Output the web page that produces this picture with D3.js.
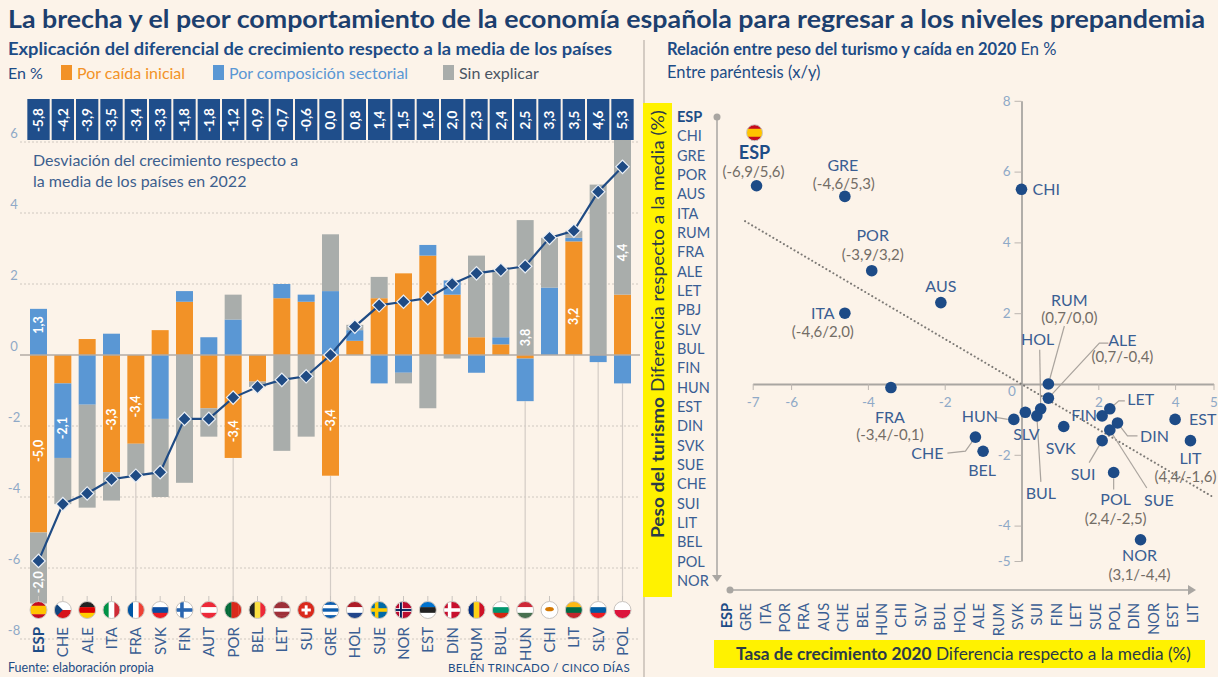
<!DOCTYPE html>
<html lang="es">
<head>
<meta charset="utf-8">
<title>La brecha y el peor comportamiento de la economía española</title>
<script src="https://cdn.jsdelivr.net/npm/d3@7"></script>
<style>
  body { margin: 0; background: #fcf3e9; }
  svg text { font-family: Lato, "Open Sans", sans-serif; }
</style>
</head>
<body>
<svg id="chart"></svg>
<script>
// ---- left panel: desviación del crecimiento 2022 y su explicación ----
const countries = ["ESP","CHE","ALE","ITA","FRA","SVK","FIN","AUT","POR","BEL","LET","SUI","GRE","HOL","SUE","NOR","EST","DIN","RUM","BUL","HUN","CHI","LIT","SLV","POL"];
const deviation2022 = [-5.8,-4.2,-3.9,-3.5,-3.4,-3.3,-1.8,-1.8,-1.2,-0.9,-0.7,-0.6,0.0,0.8,1.4,1.5,1.6,2.0,2.3,2.4,2.5,3.3,3.5,4.6,5.3];
const caidaInicial = [-5.0,-0.8,0.45,-3.3,-2.5,0.7,1.5,-1.5,-2.9,-0.75,1.6,1.5,-3.4,0.4,1.6,2.3,2.8,1.7,0.5,0.3,-0.1,0,3.2,0,1.7];
const composicionSectorial = [1.3,-2.1,-1.4,0.6,0,-1.8,0.3,0.5,1.0,0,0.4,0.2,1.8,0.3,-0.8,-0.5,0.3,0.4,-0.5,0.2,-1.2,1.9,0.1,-0.2,-0.8];
const sinExplicar = [-2.0,-1.3,-2.9,-0.8,-0.9,-2.2,-3.6,-0.8,0.7,-0.15,-2.7,-2.3,1.6,0.15,0.6,-0.3,-1.5,-0.1,2.3,1.9,3.8,1.4,0.2,4.8,4.4];
const yTicksLeft = [6,4,2,0,-2,-4,-6,-8];

// printed labels inside some bars
const barLabelCountry = ["ESP","ESP","ESP","CHE","ITA","FRA","POR","GRE","HUN","LIT","POL"];
const barLabelSeries = ["composicion","caida","sinExplicar","composicion","caida","caida","caida","caida","sinExplicar","caida","sinExplicar"];
const barLabelText = ["1,3","-5,0","-2,0","-2,1","-3,3","-3,4","-3,4","-3,4","3,8","3,2","4,4"];
// where along the segment the label sits (0 = base, 1 = end)
const barLabelAt = [0.65,0.54,0.7,0.6,0.55,0.58,0.74,0.54,0.13,0.34,0.27];
const dropLines = ["FRA","POR","GRE","HUN","LIT","SLV","POL"];

// ---- right panel: peso del turismo vs caída 2020 ----
const scatterCountries = ["ESP","GRE","POR","ITA","AUS","CHI","RUM","ALE","HOL","BUL","HUN","SLV","SVK","FIN","LET","DIN","SUE","SUI","POL","NOR","EST","LIT","CHE","BEL","FRA"];
const growth2020 = [-6.9,-4.6,-3.9,-4.6,-2.1,0.0,0.7,0.7,0.5,0.4,-0.2,0.1,1.1,2.1,2.3,2.5,2.3,2.1,2.4,3.1,4.0,4.4,-1.2,-1.0,-3.4];
const tourism = [5.6,5.3,3.2,2.0,2.3,5.5,0.0,-0.4,-0.7,-0.9,-1.0,-0.8,-1.2,-0.9,-0.7,-1.1,-1.3,-1.6,-2.5,-4.4,-1.0,-1.6,-1.5,-1.9,-0.1];
const withCoords = ["ESP","GRE","POR","ITA","RUM","ALE","FRA","POL","NOR","LIT"];
const trendX = [-7.2, 5.0];
const trendY = [4.6, -3.2];
const xTicksRight = [-7,-6,-4,-2,0,2,4,5];
const yTicksRight = [8,6,4,2,-2,-4,-5];
const rankByTourism = ["ESP","CHI","GRE","POR","AUS","ITA","RUM","FRA","ALE","LET","PBJ","SLV","BUL","FIN","HUN","EST","DIN","SVK","SUE","CHE","SUI","LIT","BEL","POL","NOR"];
const rankByGrowth = ["ESP","GRE","ITA","POR","FRA","AUS","CHE","BEL","HUN","CHI","SLV","BUL","HOL","ALE","RUM","SVK","SUI","FIN","LET","SUE","POL","DIN","NOR","EST","LIT"];

// label layout for the scatter (offsets from the dot, px)
const labelLayout = {
  ESP: {name: [-2,-33], coords: [-3,-14], flag: [-2,-53]},
  GRE: {name: [-2,-31], coords: [-1,-13]},
  POR: {name: [1,-35], coords: [1,-16]},
  ITA: {name: [-22,0], coords: [-22,19]},
  AUS: {name: [0,-16]},
  CHI: {name: [11,0], anchor: "start"},
  RUM: {name: [21,-84], coords: [21,-66], leader: [[0,0],[16,-58]]},
  ALE: {name: [74,-58], coords: [74,-41], leader: [[0,0],[51,-55],[60,-55]]},
  HOL: {name: [-3,-69], leader: [[0,0],[-1,-59]]},
  BUL: {name: [4,78], leader: [[0,0],[4,66]]},
  HUN: {name: [-34,-3], leader: [[-6,0],[-18,-2]]},
  SLV: {name: [1,22]},
  SVK: {name: [-3,22]},
  FIN: {name: [-18,0]},
  LET: {name: [31,-9], leader: [[0,0],[9,-8],[15,-8]]},
  DIN: {name: [37,13], leader: [[0,0],[10,13],[20,13]]},
  SUE: {name: [49,70], leader: [[0,0],[37,58]]},
  SUI: {name: [-19,34], leader: [[0,0],[-13,22]]},
  POL: {name: [2,27], coords: [2,46], leader: [[0,6],[0,17]]},
  NOR: {name: [-1,16], coords: [-1,35]},
  EST: {name: [14,0], anchor: "start"},
  LIT: {name: [0,18], coords: [-5,36]},
  CHE: {name: [-48,16], leader: [[0,0],[-10,14],[-28,16]]},
  BEL: {name: [-1,19]},
  FRA: {name: [-1,30], coords: [-1,47]}
};

const flagStyle = {
  ESP: {h: ["#c60b1e","#ffc400","#ffc400","#c60b1e"]},
  CHE: {h: ["#ffffff","#d7141a"], tri: "#11457e"},
  ALE: {h: ["#222222","#dd0000","#ffce00"]},
  ITA: {v: ["#009246","#ffffff","#ce2b37"]},
  FRA: {v: ["#0055a4","#ffffff","#ef4135"]},
  SVK: {h: ["#ffffff","#0b4ea2","#ee1c25"]},
  FIN: {h: ["#ffffff"], cross: ["#2a66b0"]},
  AUT: {h: ["#ed2939","#ffffff","#ed2939"]},
  POR: {v: ["#046a38","#046a38","#da291c","#da291c","#da291c"]},
  BEL: {v: ["#222222","#fae042","#ed2939"]},
  LET: {h: ["#9e3039","#9e3039","#ffffff","#9e3039","#9e3039"]},
  SUI: {h: ["#da291c"], plus: "#ffffff"},
  GRE: {h: ["#0d5eaf","#ffffff","#0d5eaf","#ffffff","#0d5eaf"]},
  HOL: {h: ["#ae1c28","#ffffff","#21468b"]},
  SUE: {h: ["#006aa7"], cross: ["#fecc00"]},
  NOR: {h: ["#ba0c2f"], cross: ["#ffffff","#00205b"]},
  EST: {h: ["#0072ce","#222222","#ffffff"]},
  DIN: {h: ["#c8102e"], cross: ["#ffffff"]},
  RUM: {v: ["#002b7f","#fcd116","#ce1126"]},
  BUL: {h: ["#ffffff","#00966e","#d62612"]},
  HUN: {h: ["#ce2939","#ffffff","#477050"]},
  CHI: {h: ["#ffffff"], dot: "#d57800"},
  LIT: {h: ["#fdb913","#006a44","#c1272d"]},
  SLV: {h: ["#ffffff","#005da4","#ed1c24"]},
  POL: {h: ["#ffffff","#dc143c"]}
};

const W = 1218, H = 677;
const navy = "#1d4c86", dark = "#1c3f6e", mid = "#3a5e93";
const colors = {caida: "#f29227", composicion: "#5a97d4", sinExplicar: "#a9adab"};
const tickBlue = "#8fa9c7";
const fmt = v => v.toFixed(1).replace(".", ",");

const svg = d3.select("#chart").attr("width", W).attr("height", H);
svg.append("rect").attr("width", W).attr("height", H).attr("fill", "#fcf3e9");

function fit(sel, w) {
  sel.attr("textLength", w).attr("lengthAdjust", "spacingAndGlyphs");
  return sel;
}

// titles
fit(svg.append("text").attr("x", 8).attr("y", 28).attr("font-size", 24.5).attr("font-weight", 700)
  .attr("fill", dark).text("La brecha y el peor comportamiento de la economía española para regresar a los niveles prepandemia"), 1197);

fit(svg.append("text").attr("x", 8).attr("y", 55).attr("font-size", 16.5).attr("font-weight", 700)
  .attr("fill", navy).text("Explicación del diferencial de crecimiento respecto a la media de los países"), 604);

// legend
svg.append("text").attr("x", 8).attr("y", 79).attr("font-size", 16).attr("fill", navy).text("En %");
const legend = [
  {key: "caida", label: "Por caída inicial", x: 61, text: colors.caida},
  {key: "composicion", label: "Por composición sectorial", x: 213, text: colors.composicion},
  {key: "sinExplicar", label: "Sin explicar", x: 443, text: "#4a5563"}
];
legend.forEach(l => {
  svg.append("rect").attr("x", l.x).attr("y", 65).attr("width", 11).attr("height", 15).attr("fill", colors[l.key]);
  svg.append("text").attr("x", l.x + 16).attr("y", 79).attr("font-size", 16).attr("fill", l.text).text(l.label);
});

// ---- left chart ----
const x = d3.scalePoint().domain(countries).range([38.5, 622.5]);
const y = d3.scaleLinear().domain([-8, 6]).range([639, 142]);
const barW = 17;

const gridG = svg.append("g");
gridG.selectAll("line").data(yTicksLeft.filter(d => d !== 0)).join("line")
  .attr("x1", 20).attr("x2", 640).attr("y1", d => y(d)).attr("y2", d => y(d))
  .attr("stroke", "#cfc8c0").attr("stroke-width", 1).attr("stroke-dasharray", "2,2");
gridG.selectAll("text").data(yTicksLeft).join("text")
  .attr("x", 14).attr("y", d => y(d) - 9).attr("dy", "0.35em").attr("text-anchor", "middle")
  .attr("font-size", 13).attr("fill", tickBlue).text(d => d);

svg.append("text").attr("x", 33).attr("y", 166).attr("font-size", 16).attr("fill", "#3d5f8e")
  .text("Desviación del crecimiento respecto a");
svg.append("text").attr("x", 33).attr("y", 187).attr("font-size", 16).attr("fill", "#3d5f8e")
  .text("la media de los países en 2022");

const keys = ["caida", "composicion", "sinExplicar"];
const rows = countries.map((c, i) => ({country: c, caida: caidaInicial[i], composicion: composicionSectorial[i], sinExplicar: sinExplicar[i]}));
const stacked = d3.stack().keys(keys).offset(d3.stackOffsetDiverging)(rows);

// drop lines to the flags
svg.append("g").selectAll("line").data(dropLines).join("line")
  .attr("x1", d => x(d)).attr("x2", d => x(d))
  .attr("y1", d => {
    const i = countries.indexOf(d);
    return y(d3.min(stacked, s => s[i][0]));
  })
  .attr("y2", 600).attr("stroke", "#d3ccc6").attr("stroke-width", 1.2);

svg.append("g").selectAll("g").data(stacked).join("g")
  .attr("fill", s => colors[s.key])
  .selectAll("rect").data(s => s).join("rect")
  .attr("x", d => x(d.data.country) - barW / 2).attr("width", barW)
  .attr("y", d => y(Math.max(d[0], d[1])))
  .attr("height", d => Math.abs(y(d[0]) - y(d[1])));

// zero line
svg.append("line").attr("x1", 20).attr("x2", 640).attr("y1", y(0)).attr("y2", y(0))
  .attr("stroke", "#b3aba4").attr("stroke-width", 1.5);

// bar labels
barLabelCountry.forEach((c, k) => {
  const i = countries.indexOf(c);
  const seg = stacked[keys.indexOf(barLabelSeries[k])][i];
  const val = barLabelSeries[k] === "caida" ? caidaInicial[i] : barLabelSeries[k] === "composicion" ? composicionSectorial[i] : sinExplicar[i];
  const base = val >= 0 ? seg[0] : seg[1];
  const end = val >= 0 ? seg[1] : seg[0];
  const at = base + barLabelAt[k] * (end - base);
  svg.append("text")
    .attr("transform", `translate(${x(c)},${y(at)}) rotate(-90)`)
    .attr("text-anchor", "middle").attr("dy", "0.35em")
    .attr("font-size", 12.5).attr("font-weight", 700).attr("fill", "#fff")
    .text(barLabelText[k]);
});

// total line and diamonds
const line = d3.line().x((d, i) => x(countries[i])).y(d => y(d));
svg.append("path").datum(deviation2022).attr("d", line)
  .attr("fill", "none").attr("stroke", "#1f4b84").attr("stroke-width", 2.2);
svg.append("g").selectAll("path").data(deviation2022).join("path")
  .attr("d", d3.symbol(d3.symbolSquare, 90))
  .attr("transform", (d, i) => `translate(${x(countries[i])},${y(d)}) rotate(45)`)
  .attr("fill", "#1f4b84").attr("stroke", "#e9eef5").attr("stroke-width", 1.2);

// value boxes on top
const boxW = x.step() - 2;
const boxes = svg.append("g").selectAll("g").data(countries).join("g")
  .attr("transform", d => `translate(${x(d)},0)`);
boxes.append("rect").attr("x", -boxW / 2).attr("y", 99).attr("width", boxW).attr("height", 41).attr("fill", "#1f4e8b");
boxes.append("text").attr("transform", "translate(0,120) rotate(-90)")
  .attr("text-anchor", "middle").attr("dy", "0.35em")
  .attr("font-size", 13.5).attr("font-weight", 700).attr("fill", "#fff")
  .text((d, i) => fmt(deviation2022[i]));

// flags
let flagId = 0;
function drawFlag(parent, code, cx, cy, r) {
  const st = flagStyle[code];
  const id = "flag" + (flagId++);
  const g = parent.append("g").attr("transform", `translate(${cx},${cy})`);
  g.append("clipPath").attr("id", id).append("circle").attr("r", r);
  const f = g.append("g").attr("clip-path", `url(#${id})`);
  if (st.h) {
    const hh = 2 * r / st.h.length;
    st.h.forEach((c, k) => f.append("rect").attr("x", -r).attr("y", -r + k * hh).attr("width", 2 * r).attr("height", hh + 0.3).attr("fill", c));
  }
  if (st.v) {
    const ww = 2 * r / st.v.length;
    st.v.forEach((c, k) => f.append("rect").attr("x", -r + k * ww).attr("y", -r).attr("width", ww + 0.3).attr("height", 2 * r).attr("fill", c));
  }
  if (st.tri) f.append("path").attr("d", `M${-r},${-r}L0,0L${-r},${r}Z`).attr("fill", st.tri);
  if (st.cross) {
    st.cross.forEach((c, k) => {
      const t = (k === 0 ? 0.42 : 0.22) * r;
      f.append("rect").attr("x", -r).attr("y", -t / 2).attr("width", 2 * r).attr("height", t).attr("fill", c);
      f.append("rect").attr("x", -0.3 * r - t / 2).attr("y", -r).attr("width", t).attr("height", 2 * r).attr("fill", c);
    });
  }
  if (st.plus) {
    f.append("rect").attr("x", -0.55 * r).attr("y", -0.17 * r).attr("width", 1.1 * r).attr("height", 0.34 * r).attr("fill", st.plus);
    f.append("rect").attr("x", -0.17 * r).attr("y", -0.55 * r).attr("width", 0.34 * r).attr("height", 1.1 * r).attr("fill", st.plus);
  }
  if (st.dot) f.append("ellipse").attr("rx", 0.5 * r).attr("ry", 0.25 * r).attr("cy", -0.1 * r).attr("fill", st.dot);
  g.append("circle").attr("r", r).attr("fill", "none").attr("stroke", "#c9c4bf").attr("stroke-width", 1);
}

const flagsG = svg.append("g");
countries.forEach(c => {
  flagsG.append("line").attr("x1", x(c)).attr("x2", x(c)).attr("y1", 596).attr("y2", 601)
    .attr("stroke", "#c9c4bf");
  drawFlag(flagsG, c, x(c), 610, 8.5);
});

svg.append("g").selectAll("text").data(countries).join("text")
  .attr("transform", d => `translate(${x(d) + 5.5},627) rotate(-90)`)
  .attr("text-anchor", "end").attr("font-size", 15)
  .attr("font-weight", d => d === "ESP" ? 700 : 400)
  .attr("fill", d => d === "ESP" ? navy : mid)
  .text(d => d);

svg.append("text").attr("x", 8).attr("y", 672).attr("font-size", 12.5).attr("fill", navy).text("Fuente: elaboración propia");
svg.append("text").attr("x", 630).attr("y", 672).attr("text-anchor", "end").attr("font-size", 11.5)
  .attr("letter-spacing", 0.3).attr("fill", navy).text("BELÉN TRINCADO / CINCO DÍAS");

// divider
svg.append("line").attr("x1", 644).attr("x2", 644).attr("y1", 40).attr("y2", 677)
  .attr("stroke", "#b9b1a9").attr("stroke-width", 1.2);

// ---- right chart ----
const t1 = svg.append("text").attr("x", 667).attr("y", 55).attr("font-size", 16.5).attr("fill", navy);
t1.append("tspan").attr("font-weight", 700).text("Relación entre peso del turismo y caída en 2020");
t1.append("tspan").text(" En %");
svg.append("text").attr("x", 667).attr("y", 78).attr("font-size", 16.5).attr("fill", navy).text("Entre paréntesis (x/y)");

// yellow boxes
svg.append("rect").attr("x", 643).attr("y", 103).attr("width", 29).attr("height", 494).attr("fill", "#fff200");
const yt = fit(svg.append("text").attr("transform", "translate(664,538) rotate(-90)")
  .attr("font-size", 16.5).attr("fill", "#2b3a48"), 428);
yt.append("tspan").attr("font-weight", 700).text("Peso del turismo");
yt.append("tspan").text(" Diferencia respecto a  la media (%)");

svg.append("rect").attr("x", 714).attr("y", 640).attr("width", 491).attr("height", 28).attr("fill", "#fff200");
const xt = fit(svg.append("text").attr("x", 736).attr("y", 660).attr("font-size", 16.5).attr("fill", "#2b3a48"), 455);
xt.append("tspan").attr("font-weight", 700).text("Tasa de crecimiento 2020");
xt.append("tspan").text("  Diferencia respecto a  la media (%)");

// ranking lists
const yRank = d3.scalePoint().domain(rankByTourism).range([117, 581]);
const xRank = d3.scalePoint().domain(rankByGrowth).range([726.7, 1192.7]);

svg.append("g").selectAll("text").data(rankByTourism).join("text")
  .attr("x", 677).attr("y", d => yRank(d)).attr("dy", "0.35em").attr("font-size", 14.5)
  .attr("font-weight", d => d === "ESP" ? 700 : 400)
  .attr("fill", d => d === "ESP" ? navy : mid).text(d => d);

svg.append("g").selectAll("text").data(rankByGrowth).join("text")
  .attr("transform", d => `translate(${xRank(d) + 5},603) rotate(-90)`)
  .attr("text-anchor", "end").attr("font-size", 14.5)
  .attr("font-weight", d => d === "ESP" ? 700 : 400)
  .attr("fill", d => d === "ESP" ? navy : mid).text(d => d);

const axisGray = "#a9a6a2";
// ranking axes with dot and arrow
svg.append("line").attr("x1", 717).attr("x2", 717).attr("y1", yRank("ESP")).attr("y2", 577)
  .attr("stroke", axisGray).attr("stroke-width", 1.5);
svg.append("circle").attr("cx", 717).attr("cy", yRank("ESP")).attr("r", 3.5).attr("fill", axisGray);
svg.append("path").attr("d", "M712,575L722,575L717,582Z").attr("fill", axisGray);

svg.append("line").attr("x1", 730).attr("x2", 1190).attr("y1", 590).attr("y2", 590)
  .attr("stroke", axisGray).attr("stroke-width", 1.5);
svg.append("circle").attr("cx", 730).attr("cy", 590).attr("r", 3.5).attr("fill", axisGray);
svg.append("path").attr("d", "M1188,585L1196,590L1188,595Z").attr("fill", axisGray);

// scatter axes
const xR = d3.scaleLinear().domain([-7, 5]).range([752.7, 1213.5]);
const yR = d3.scaleLinear().domain([-5, 8]).range([561, 100.8]);

const gx = svg.append("g").attr("transform", `translate(0,${yR(0)})`)
  .call(d3.axisBottom(xR).tickValues(xTicksRight).tickSize(6).tickSizeOuter(0).tickPadding(7).tickFormat(d => d));
const gy = svg.append("g").attr("transform", `translate(${xR(0)},0)`)
  .call(d3.axisLeft(yR).tickValues(yTicksRight).tickSize(7).tickSizeOuter(0).tickPadding(4).tickFormat(d => d));
[gx, gy].forEach(g => {
  g.select(".domain").attr("stroke", axisGray).attr("stroke-width", 1.8);
  g.selectAll(".tick line").attr("stroke", "#bcb6b0");
  g.selectAll(".tick text").attr("fill", tickBlue).attr("font-size", 13.5).attr("font-family", "Lato, sans-serif");
});
gx.selectAll(".tick").filter(d => d === 0).select("text").attr("dx", -10).attr("dy", "-0.1em");
gx.selectAll(".tick").filter(d => d === 0).select("line").remove();

// trend line
svg.append("path").datum(trendX.map((v, i) => [v, trendY[i]]))
  .attr("d", d3.line().x(d => xR(d[0])).y(d => yR(d[1])))
  .attr("fill", "none").attr("stroke", "#7d7a76").attr("stroke-width", 2)
  .attr("stroke-dasharray", "0.1,4").attr("stroke-linecap", "round");

// leaders
const pts = scatterCountries.map((c, i) => ({c, px: xR(growth2020[i]), py: yR(tourism[i]), gx: growth2020[i], ty: tourism[i]}));
const leaderG = svg.append("g");
pts.forEach(p => {
  const L = labelLayout[p.c];
  if (L.leader) {
    leaderG.append("path").attr("d", d3.line()(L.leader.map(o => [p.px + o[0], p.py + o[1]])))
      .attr("fill", "none").attr("stroke", "#aaa49e").attr("stroke-width", 1.2);
  }
});

svg.append("g").selectAll("circle").data(pts).join("circle")
  .attr("cx", d => d.px).attr("cy", d => d.py).attr("r", 5.8).attr("fill", "#1d4b87");

const labG = svg.append("g");
pts.forEach(p => {
  const L = labelLayout[p.c];
  labG.append("text").attr("x", p.px + L.name[0]).attr("y", p.py + L.name[1]).attr("dy", "0.35em")
    .attr("text-anchor", L.anchor || "middle")
    .attr("font-size", p.c === "ESP" ? 18 : 16)
    .attr("font-weight", p.c === "ESP" ? 700 : 400)
    .attr("fill", p.c === "ESP" ? navy : mid).text(p.c);
  if (withCoords.includes(p.c) && L.coords) {
    labG.append("text").attr("x", p.px + L.coords[0]).attr("y", p.py + L.coords[1]).attr("dy", "0.35em")
      .attr("text-anchor", "middle").attr("font-size", 15).attr("fill", "#736d66")
      .text(`(${fmt(p.gx)}/${fmt(p.ty)})`);
  }
  if (L.flag) drawFlag(labG, p.c, p.px + L.flag[0], p.py + L.flag[1], 8);
});
</script>
</body>
</html>
